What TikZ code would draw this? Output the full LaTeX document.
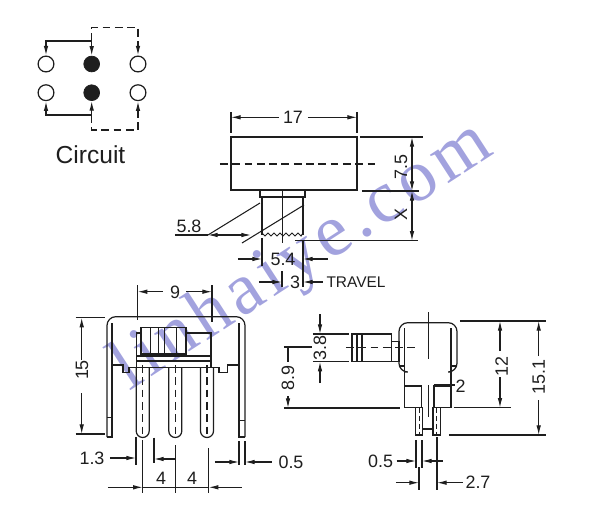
\documentclass[tikz,border=0pt]{standalone}
\usepackage{fontspec}
\setmainfont{Liberation Sans}
\newfontfamily\markfont[LetterSpace=6.6]{Liberation Serif}
\usetikzlibrary{arrows.meta}
\definecolor{inkgray}{HTML}{1E1E1E}
\definecolor{markblue}{HTML}{A2A2DE}
\tikzset{
    part/.style={draw=inkgray,line width=0.7pt},
    thin part/.style={draw=inkgray,line width=0.55pt},
    centre/.style={draw=inkgray,line width=0.7pt,dash pattern=on 4.4pt off 2.6pt},
    dim/.style={draw=inkgray,line width=0.6pt,-{Latex[length=5.5pt,width=2.6pt]}},
    ext/.style={draw=inkgray,line width=0.6pt},
    lbl/.style={inner sep=0pt,font=\fontsize{10.2}{11}\selectfont,text=inkgray},
    open pin/.style={circle,draw=inkgray,line width=0.7pt,minimum size=9pt,inner sep=0pt},
    solid pin/.style={circle,fill=inkgray,draw=inkgray,minimum size=9pt,inner sep=0pt},
}
\begin{document}
\begin{tikzpicture}[x=0.02cm,y=-0.02cm]
    \useasboundingbox (0,0) rectangle (600,512);

    % watermark
    \node[text=markblue,rotate=33,anchor=base,inner sep=0pt,font=\markfont\fontsize{42}{42}\selectfont] (webmark) at (312.5,272.5) {linhaiye.com};

    % circuit
    \node[open pin] (pinul) at (46,64) {};
    \node[solid pin] (pinum) at (91.7,64) {};
    \node[open pin] (pinur) at (138,64) {};
    \node[open pin] (pinll) at (46,92.7) {};
    \node[solid pin] (pinlm) at (91.7,92.7) {};
    \node[open pin] (pinlr) at (138,92.7) {};
    \coordinate (topsolid) at (91.7,41);
    \coordinate (topdash) at (91.7,27.3);
    \coordinate (lowsolid) at (91.7,115);
    \coordinate (lowdash) at (91.7,130);
    \draw[part,{Latex[length=5.5pt,width=2.6pt]}-{Latex[length=5.5pt,width=2.6pt]}] (pinum.north) -- (topsolid) -| (pinul.north);
    \draw[part,{Latex[length=5.5pt,width=2.6pt]}-{Latex[length=5.5pt,width=2.6pt]}] (pinlm.south) -- (lowsolid) -| (pinll.south);
    \draw[centre,-{Latex[length=5.5pt,width=2.6pt]}] (topsolid) -- (topdash) -| (pinur.north);
    \draw[centre,-{Latex[length=5.5pt,width=2.6pt]}] (lowsolid) -- (lowdash) -| (pinlr.south);
    \node[lbl,font=\fontsize{14}{15}\selectfont] (circuit) at (90.5,155) {Circuit};

    % top view
    \draw[part] (231,137) rectangle (357,190);
    \draw[centre] (220,164) -- (375,164);
    \draw[part] (260,190) rectangle (305,197);
    \draw[part] (262,197) -- (262,235);
    \draw[part] (303,197) -- (303,235);
    \draw[thin part] (282,190) -- (282,243);
    \draw[thin part] (262,233) -- (265,236) -- (268,233) -- (271,236) -- (274,233) -- (277,236) -- (280,233) -- (283,236) -- (286,233) -- (289,236) -- (292,233) -- (295,236) -- (298,233) -- (301,236) -- (303,233);
    \draw[ext] (260,203) -- (208,235);
    \draw[ext] (304,205) -- (242,243);
    \draw[ext] (175,235) -- (208,235);
    \draw[dim] (222,235) -- (208,235);
    \draw[dim] (222,235) -- (251,235);
    \node[lbl] (wfive) at (189,226.7) {5.8};

    \draw[ext] (231,112) -- (231,133);
    \draw[ext] (357,112) -- (357,133);
    \draw[dim] (279,117.3) -- (231,117.3);
    \draw[dim] (308,117.3) -- (357,117.3);
    \node[lbl] (wseventeen) at (293,117) {17};

    \draw[ext] (360,137) -- (423,137);
    \draw[ext] (362,191) -- (419,191);
    \draw[ext] (295,240.7) -- (418,240.7);
    \draw[dim] (412,164) -- (412,137);
    \draw[dim] (412,164) -- (412,191);
    \draw[dim] (412,215) -- (412,191);
    \draw[dim] (412,215) -- (412,240.7);
    \node[lbl,rotate=90] (hseven) at (401,167) {7.5};
    \node[lbl,rotate=90] (hx) at (401,215) {X};

    \draw[ext] (262,238) -- (262,266);
    \draw[ext] (303,240) -- (303,287);
    \draw[ext] (282,271) -- (282,287);
    \draw[dim] (238,259) -- (262,259);
    \draw[dim] (328,259) -- (303,259);
    \node[lbl] (wstem) at (283,259) {5.4};
    \draw[dim] (259,282) -- (282,282);
    \draw[dim] (323,282) -- (303,282);
    \node[lbl] (wtravel) at (295,282) {3};
    \node[lbl,font=\fontsize{8.8}{9}\selectfont] (travel) at (356,282) {TRAVEL};

    % front view
    \draw[part,rounded corners=5pt] (107,437) -- (107,316.7) -- (245,316.7) -- (245,437);
    \draw[part] (107,437) -- (112,437) -- (112,323);
    \draw[part] (245,437) -- (239,437) -- (239,323);
    \draw[part] (107,417.7) -- (112,417.7);
    \draw[part] (239,420.7) -- (245,420.7);
    \draw[part] (141,327.7) rectangle (186,354);
    \foreach \xx in {150,158,164,176}
        \draw[thin part] (\xx,327.7) -- (\xx,354);
    \draw[part] (141,333) -- (136.7,333) -- (136.7,368);
    \draw[part] (186,333) -- (211,333) -- (211,368);
    \draw[part] (136.7,356) -- (211,356);
    \draw[part] (136.7,361) -- (211,361);
    \draw[part] (112,365) -- (123,365) -- (123,372.7) -- (129,372.7) -- (129,367.7) -- (219,367.7) -- (219,372.7) -- (227.7,372.7) -- (227.7,365) -- (239,365);
    \foreach \xx in {142.7,175.3,207}{
        \draw[part] (\xx-6.5,367.7) -- (\xx-6.5,431) arc[start angle=180,end angle=0,radius=6.5,y=-1] -- (\xx+6.5,367.7);
        \draw[centre] (\xx,365) -- (\xx,436);
    }
    \draw[ext] (137.7,285) -- (137.7,320);
    \draw[ext] (212,285) -- (212,322);
    \draw[dim] (163,291.7) -- (137.7,291.7);
    \draw[dim] (186,291.7) -- (212,291.7);
    \node[lbl] (wslot) at (175,292) {9};

    \draw[ext] (75.7,317.7) -- (105,317.7);
    \draw[ext] (75.7,434) -- (105,434);
    \draw[dim] (81.7,360) -- (81.7,317.7);
    \draw[dim] (81.7,393) -- (81.7,434);
    \node[lbl,rotate=90] (hfront) at (82,370) {15};

    \draw[ext] (136,437) -- (136,465);
    \draw[ext] (142.7,440) -- (142.7,493);
    \draw[ext] (154,437.7) -- (154,463);
    \draw[dim] (110,458) -- (136,458);
    \draw[dim] (175,459) -- (154,459);
    \node[lbl] (wfoot) at (92,458) {1.3};
    \draw[ext] (175.3,445) -- (175.3,493);
    \draw[ext] (208.7,448) -- (208.7,493);
    \draw[dim] (108,487.3) -- (142.7,487.3);
    \draw[dim] (241.7,487.3) -- (208.7,487.3);
    \draw[ext] (142.7,487.3) -- (208.7,487.3);
    \node[lbl] (wpitcha) at (161,478) {4};
    \node[lbl] (wpitchb) at (192,478) {4};
    \draw[ext] (239,441) -- (239,465);
    \draw[ext] (245,441) -- (245,465);
    \draw[dim] (215,462) -- (239,462);
    \draw[dim] (272,462) -- (245,462);
    \node[lbl] (wleg) at (291,462) {0.5};

    % side view
    \draw[part,rounded corners=5pt] (404.7,372) -- (399,372) -- (399,322.7) -- (457,322.7) -- (457,372) -- (451,372);
    \draw[part] (404.7,328) -- (404.7,407.7) -- (421.7,407.7) -- (421.7,386) -- (404.7,386);
    \draw[part] (451,328) -- (451,407.7) -- (434,407.7) -- (434,386) -- (451,386);
    \draw[part] (399,366) -- (404.7,366);
    \draw[part] (451,366) -- (457,366);
    \draw[thin part] (428,312) -- (428,359);
    \draw[thin part] (428,385) -- (428,416.7);
    \draw[part] (415.7,407.7) rectangle (422.7,435);
    \draw[part] (433,407.7) rectangle (440.7,435);
    \draw[part] (422.7,429) -- (433,429);
    \draw[thin part,dash pattern=on 3pt off 1.5pt] (419.2,408) -- (419.2,435);
    \draw[thin part,dash pattern=on 3pt off 1.5pt] (436.8,408) -- (436.8,435);
    \draw[part] (352,334) rectangle (391.7,361.7);
    \draw[part] (357,334) -- (357,361.7);
    \draw[part] (362,334) -- (362,361.7);
    \draw[part] (391.7,341.7) rectangle (399,361.7);
    \draw[centre] (346,347.3) -- (418,347.3);

    \draw[ext] (313,334) -- (349,334);
    \draw[ext] (313,361.7) -- (349,361.7);
    \draw[dim] (320,314) -- (320,334);
    \draw[dim] (320,383) -- (320,361.7);
    \node[lbl,rotate=90] (hslider) at (320,348) {3.8};

    \draw[ext] (284,347) -- (312,347);
    \draw[ext] (284,408) -- (400,408);
    \draw[ext] (288,347) -- (288,362);
    \draw[dim] (288,396) -- (288,408);
    \node[lbl,rotate=90] (hcentre) at (288,378) {8.9};

    \draw[ext] (460,321) -- (545.7,321);
    \draw[ext] (454,407.7) -- (510.7,407.7);
    \draw[ext] (449,435) -- (545.7,435);
    \draw[dim] (500,351) -- (500,321);
    \draw[dim] (500,377) -- (500,407.7);
    \node[lbl,rotate=90] (hbody) at (501.7,366.7) {12};
    \draw[dim] (538.7,356) -- (538.7,321);
    \draw[dim] (538.7,400) -- (538.7,435);
    \node[lbl,rotate=90] (htotal) at (538.7,376.7) {15.1};

    \draw[ext] (434,385) -- (455,385);
    \node[lbl] (wgap) at (460.7,386) {2};

    \draw[ext] (416,440) -- (416,468);
    \draw[ext] (422,440) -- (422,468);
    \draw[dim] (396.7,461) -- (416,461);
    \draw[dim] (442.7,461) -- (422,461);
    \node[lbl] (wpin) at (380.7,461) {0.5};
    \draw[ext] (419,467) -- (419,490);
    \draw[ext] (437,437) -- (437,490);
    \draw[dim] (396,482.7) -- (419,482.7);
    \draw[dim] (462.7,482.7) -- (437,482.7);
    \node[lbl] (wrow) at (478,482.7) {2.7};
\end{tikzpicture}
\end{document}
